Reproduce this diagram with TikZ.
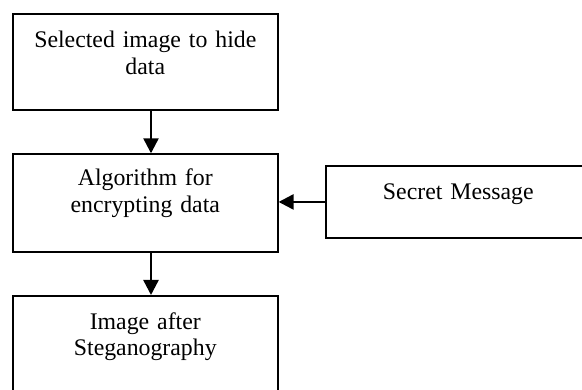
\documentclass[tikz,border=0pt]{standalone}
\usepackage{fontspec}
\setmainfont{Liberation Serif}
\usetikzlibrary{arrows.meta}

\tikzset{
  box/.style={draw=black, line width=1.6pt, inner sep=0pt, align=center,
    anchor=north west, font=\fontsize{23.8}{26.6}\selectfont},
  arr/.style={line width=2.4pt, -{Triangle[width=15pt,length=15pt]}}
}
% top and bottom struts keep the text near the top of each box
\newcommand{\topgap}[1]{\rule{0pt}{#1pt}}
\newcommand{\botgap}[1]{\rule[-#1pt]{0pt}{#1pt}}

\begin{document}
\begin{tikzpicture}[x=1pt,y=-1pt]
  \useasboundingbox (0,0) rectangle (582,390);
  \clip (0,0) rectangle (582,390);

  \node[box, text width=265pt] (b1) at (12,13)
    {\topgap{33.7}Selected image to hide\\data\botgap{36}};
  \node[box, text width=265pt] (b2) at (12,153.3)
    {\topgap{31.7}Algorithm for\\encrypting data\botgap{39.4}};
  \node[box, text width=265pt] (b3) at (12,295)
    {\topgap{33.3}Image after\\Steganography\botgap{45}};
  \node[box, text width=265pt] (b4) at (325,165)
    {\topgap{33.3}Secret Message\botgap{39}};

  \draw[arr] ([xshift=139pt]b1.south west) -- ([xshift=139pt]b2.north west);
  \draw[arr] ([xshift=139pt]b2.south west) -- ([xshift=139pt]b3.north west);
  \draw[arr] (b4.west) -- (b4.west -| b2.east);
\end{tikzpicture}
\end{document}
